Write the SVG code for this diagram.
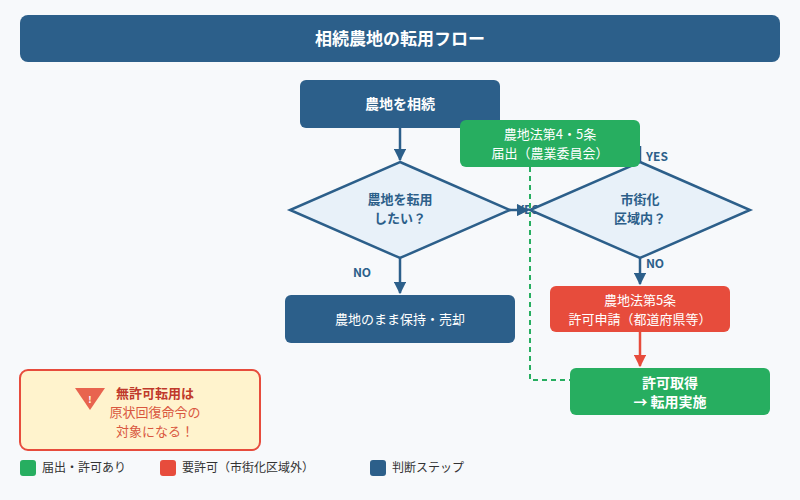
<svg xmlns="http://www.w3.org/2000/svg" width="800" height="500" viewBox="0 0 800 500">
<defs>
<style>
text{font-family:"Noto Sans CJK JP","Noto Sans",sans-serif;text-anchor:middle}
.w{fill:#fff;font-size:13px}
.wb{fill:#fff;font-size:14px;font-weight:bold}
.d{fill:#2c5f8a;font-size:13px;font-weight:bold}
.l{fill:#2c5f8a;stroke:#2c5f8a;stroke-width:2.5;fill:none}
.lab{fill:#2c5f8a;font-size:12px;font-weight:bold}
.lg{fill:#333;font-size:12px;text-anchor:start}
</style>
<marker id="a" viewBox="0 0 10 10" refX="9" refY="5" markerWidth="5" markerHeight="5" orient="auto"><path d="M0 0L10 5L0 10z" fill="#2c5f8a"/></marker>
<marker id="r" viewBox="0 0 10 10" refX="9" refY="5" markerWidth="5" markerHeight="5" orient="auto"><path d="M0 0L10 5L0 10z" fill="#e74c3c"/></marker>
</defs>
<rect width="800" height="500" fill="#f7f9fb"/>
<g id="title"><rect x="20" y="15" width="760" height="47" rx="8" fill="#2c5f8a"/><text x="400" y="45" fill="#fff" font-size="17" font-weight="bold">相続農地の転用フロー</text></g>
<g id="connectors">
<line class="l" x1="400" y1="128" x2="400" y2="160" marker-end="url(#a)"/>
<line class="l" x1="510" y1="210" x2="528" y2="210" marker-end="url(#a)"/>
<text class="lab" x="528" y="214">YES</text>
<line class="l" x1="640" y1="162" x2="640" y2="146"/>
<text class="lab" x="657" y="161">YES</text>
<line class="l" x1="400" y1="258" x2="400" y2="293" marker-end="url(#a)"/>
<text class="lab" x="362" y="277">NO</text>
<line class="l" x1="640" y1="258" x2="640" y2="284" marker-end="url(#a)"/>
<text class="lab" x="655" y="268">NO</text>
<line x1="640" y1="332" x2="640" y2="366" stroke="#e74c3c" stroke-width="2.5" marker-end="url(#r)"/>
<polyline points="530,167 530,380 570,380" fill="none" stroke="#27ae60" stroke-width="2" stroke-dasharray="5,4"/>
</g>
<g id="start"><rect x="300" y="80" width="200" height="48" rx="6" fill="#2c5f8a"/><text class="wb" x="400" y="109">農地を相続</text></g>
<g id="q1"><polygon points="400,162 510,210 400,258 290,210" fill="#e8f1f9" stroke="#2c5f8a" stroke-width="2.5"/><text class="d" x="400" y="204">農地を転用</text><text class="d" x="400" y="223">したい？</text></g>
<g id="q2"><polygon points="640,162 750,210 640,258 530,210" fill="#e8f1f9" stroke="#2c5f8a" stroke-width="2.5"/><text class="d" x="640" y="204">市街化</text><text class="d" x="640" y="223">区域内？</text></g>
<g id="notify"><rect x="460" y="120" width="180" height="47" rx="6" fill="#27ae60"/><text class="w" x="550" y="139">農地法第4・5条</text><text class="w" x="550" y="158">届出（農業委員会）</text></g>
<g id="keep"><rect x="285" y="295" width="230" height="48" rx="6" fill="#2c5f8a"/><text class="w" x="400" y="324">農地のまま保持・売却</text></g>
<g id="permit"><rect x="550" y="286" width="180" height="46" rx="6" fill="#e74c3c"/><text class="w" x="640" y="305">農地法第5条</text><text class="w" x="640" y="324">許可申請（都道府県等）</text></g>
<g id="done"><rect x="570" y="368" width="200" height="47" rx="6" fill="#27ae60"/><text class="wb" x="670" y="388">許可取得</text><text class="wb" x="670" y="407">→ 転用実施</text></g>
<g id="warn"><rect x="20" y="370" width="240" height="80" rx="8" fill="#fff3cd" stroke="#e74c3c" stroke-width="2"/>
<polygon points="75,388 105,388 90,410" fill="#e8644f"/><text x="90" y="403" fill="#fff" font-size="9" font-weight="bold">!</text>
<text x="155" y="398" fill="#c0392b" font-size="13" font-weight="bold">無許可転用は</text>
<text x="155" y="417" fill="#d9573f" font-size="13">原状回復命令の</text>
<text x="155" y="436" fill="#d9573f" font-size="13">対象になる！</text></g>
<g id="legend">
<rect x="20" y="460" width="16" height="16" rx="3" fill="#27ae60"/><text class="lg" x="42" y="472">届出・許可あり</text>
<rect x="160" y="460" width="16" height="16" rx="3" fill="#e74c3c"/><text class="lg" x="182" y="472">要許可（市街化区域外）</text>
<rect x="370" y="460" width="16" height="16" rx="3" fill="#2c5f8a"/><text class="lg" x="392" y="472">判断ステップ</text>
</g>
</svg>
